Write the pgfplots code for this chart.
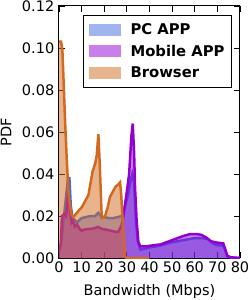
\documentclass[border=0pt]{standalone}
\usepackage{pgfplots}
\pgfplotsset{compat=1.18}
\usepackage{fontspec}
\setmainfont{DejaVu Sans}
\definecolor{pcline}{HTML}{4169E1}
\definecolor{mobline}{HTML}{9400D3}
\definecolor{brline}{HTML}{D2691E}
\definecolor{pcleg}{RGB}{160,180,240}
\definecolor{mobleg}{RGB}{201,127,233}
\definecolor{brleg}{RGB}{232,180,142}
\pgfplotstableread{
x y
0 0.003
1 0.008
2 0.018
3 0.028
4 0.038
4.6 0.038
5.2 0.025
6 0.019
7 0.018
8 0.017
9 0.018
10 0.019
12 0.0195
14 0.020
16 0.020
17.4 0.0215
18.5 0.020
20 0.0195
22 0.019
24 0.019
26 0.0195
27.7 0.020
28.5 0.022
29.5 0.026
30.5 0.030
31.5 0.036
32.4 0.040
33.2 0.036
34 0.018
34.8 0.008
36 0.004
38 0.0045
40 0.005
45 0.006
50 0.0075
55 0.0085
60 0.0095
63 0.0095
66 0.009
68 0.007
70 0.006
72.5 0.006
73.5 0.004
74.5 0.001
76 0.0002
80 0
}\pcdata
\pgfplotstableread{
x y
0 0.004
0.8 0.006
1.3 0.020
2.5 0.021
3.2 0.020
4.1 0.032
4.6 0.025
5.5 0.017
6 0.018
7 0.015
8 0.016
9 0.014
10 0.013
11 0.0135
13 0.0138
15 0.014
17.4 0.0148
19 0.0138
21 0.0135
23.3 0.0129
25 0.0125
26.2 0.0125
27.7 0.0157
28.4 0.0197
29.9 0.031
31 0.040
32 0.058
32.6 0.064
33.2 0.050
33.6 0.034
34.3 0.018
35.1 0.0075
36 0.0055
38 0.0055
40 0.0058
45 0.0065
50 0.0085
55 0.0105
58 0.0114
61 0.0114
63 0.011
65 0.0098
67 0.008
70 0.0073
72.6 0.007
73.5 0.004
74.3 0.001
76 0.0003
80 0
}\mobdata
\pgfplotstableread{
x y
0 0.103
0.9 0.103
1.5 0.099
2 0.085
2.7 0.065
3.5 0.045
4.3 0.030
5 0.024
5.6 0.0205
6.3 0.0195
7.5 0.021
9 0.023
10 0.024
11.5 0.027
13 0.030
14 0.036
14.8 0.041
16 0.045
16.7 0.049
17.4 0.059
18 0.045
18.9 0.019
20.3 0.0197
21.5 0.024
22.5 0.029
24 0.032
25 0.034
26.2 0.035
27 0.036
27.5 0.030
28.3 0.015
29.2 0.0005
30 0
40 0
}\brdata
\begin{document}
\begin{tikzpicture}
\begin{axis}[
  name=ax,
  scale only axis,
  width=181pt, height=252pt,
  xmin=0, xmax=80, ymin=0, ymax=0.12,
  xtick={0,10,...,80},
  ytick={0,0.02,...,0.12},
  /pgf/number format/assume math mode=true,
  yticklabel style={/pgf/number format/fixed, /pgf/number format/fixed zerofill, /pgf/number format/precision=2, xshift=-1.2pt},
  tick align=inside,
  major tick length=6pt,
  tick style={black, line width=0.8pt},
  axis line style={black, line width=1pt},
  ticklabel style={font=\fontsize{14.5}{16}\selectfont},
  every axis x label/.style={at={(axis description cs:0.5,0)},anchor=center,yshift=-33.5pt},
  every axis y label/.style={at={(axis description cs:-0.293,0.5)},anchor=center,rotate=90},
  label style={font=\fontsize{14.5}{16}\selectfont},
  xlabel={Bandwidth (Mbps)},
  ylabel={PDF},
  legend cell align=left,
  legend image code/.code={\fill[#1] (0pt,-6pt) rectangle (32pt,6pt);},
  legend style={at={(rel axis cs:0.956,0.964)}, anchor=north east, draw=black, line width=1pt,
    font=\bfseries\fontsize{14.8}{16}\selectfont, inner xsep=5pt, inner ysep=6pt,
    row sep=5pt, /tikz/every odd column/.append style={column sep=8pt}},
]
\addplot[draw=none, fill=pcline, fill opacity=0.5, forget plot] table {\pcdata} \closedcycle;
\addplot[pcline, line width=2.5pt, forget plot] table {\pcdata};
\addplot[draw=none, fill=mobline, fill opacity=0.5, forget plot] table {\mobdata} \closedcycle;
\addplot[mobline, line width=2.5pt, forget plot] table {\mobdata};
\addplot[draw=none, fill=brline, fill opacity=0.5, forget plot] table {\brdata} \closedcycle;
\addplot[brline, line width=2.5pt, forget plot] table {\brdata};
\addlegendimage{fill=pcleg, draw=none}
\addlegendentry{PC APP}
\addlegendimage{fill=mobleg, draw=none}
\addlegendentry{Mobile APP}
\addlegendimage{fill=brleg, draw=none}
\addlegendentry{Browser}
\end{axis}
\pgfresetboundingbox
\path ([shift={(-59pt,-42pt)}]ax.south west) rectangle ([shift={(9pt,6pt)}]ax.north east);
\end{tikzpicture}
\end{document}
